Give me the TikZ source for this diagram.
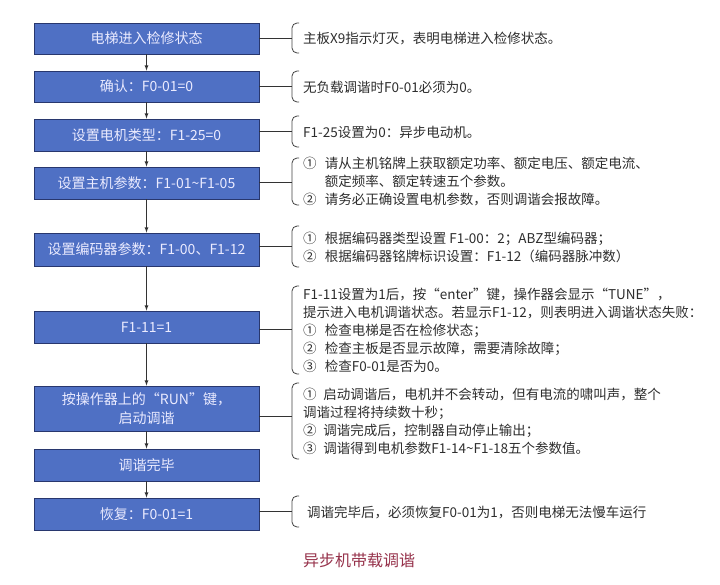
\documentclass[tikz,border=0pt]{standalone}
\usepackage{fontspec}
\setmainfont{Noto Sans CJK SC}
\usetikzlibrary{arrows}
\definecolor{boxblue}{RGB}{79,112,196}
\definecolor{boxline}{RGB}{40,55,110}
\definecolor{notegray}{RGB}{45,45,45}
\definecolor{titlered}{RGB}{150,50,75}

\begin{document}
\begin{tikzpicture}[x=1pt,y=-1pt,
    stepbox/.style={draw=boxline,line width=0.8pt,fill=boxblue,minimum width=225pt,inner sep=0pt,
      text=white!92!blue,align=center,font=\fontsize{14}{19}\selectfont},
    note/.style={anchor=west,align=left,inner sep=0pt,text=notegray,font=\fontsize{13.5}{18}\selectfont},
    brk/.style={draw=black!75,line width=0.8pt,rounded corners=5pt},
    link/.style={draw=black!80,line width=0.8pt}]
  \useasboundingbox (0,0) rectangle (720,584);
  % steps
  \node[stepbox,minimum height=31pt](b1)at(146.5,38.5){电梯进入检修状态};
  \node[stepbox,minimum height=31pt](b2)at(146.5,86.5){确认：F0-01=0};
  \node[stepbox,minimum height=32pt](b3)at(146.5,135){设置电机类型：F1-25=0};
  \node[stepbox,minimum height=32pt](b4)at(146.5,183){设置主机参数：F1-01\textasciitilde F1-05};
  \node[stepbox,minimum height=33pt](b5)at(146.5,249.5){设置编码器参数：F1-00、F1-12};
  \node[stepbox,minimum height=32pt](b6)at(146.5,327){F1-11=1};
  \node[stepbox,minimum height=45pt](b7)at(146.5,408.5){按操作器上的“RUN”键，\\启动调谐};
  \node[stepbox,minimum height=32pt](b8)at(146.5,465){调谐完毕};
  \node[stepbox,minimum height=32pt](b9)at(146.5,514){恢复：F0-01=1};
  \foreach \a/\b in {b1/b2,b2/b3,b3/b4,b4/b5,b5/b6,b6/b7,b7/b8,b8/b9}
    \draw[link,-latex](\a.south)--(\b.north);
  % notes
  \node[note](t1)at(303,39){主板X9指示灯灭，表明电梯进入检修状态。};
  \node[note](t2)at(303,87){无负载调谐时F0-01必须为0。};
  \node[note](t3)at(303,132){F1-25设置为0：异步电动机。};
  \node[note](t4)at(303,182){①\hspace{0.6em}请从主机铭牌上获取额定功率、额定电压、额定电流、\\\hspace{1.6em}额定频率、额定转速五个参数。\\②\hspace{0.6em}请务必正确设置电机参数，否则调谐会报故障。};
  \node[note](t5)at(303,247.5){①\hspace{0.6em}根据编码器类型设置 F1-00：2；ABZ型编码器；\\②\hspace{0.6em}根据编码器铭牌标识设置：F1-12（编码器脉冲数）};
  \node[note](t6)at(303,330){F1-11设置为1后，按“enter”键，操作器会显示“TUNE”，\\提示进入电机调谐状态。若显示F1-12，则表明进入调谐状态失败：\\①\hspace{0.6em}检查电梯是否在检修状态；\\②\hspace{0.6em}检查主板是否显示故障，需要清除故障；\\③\hspace{0.6em}检查F0-01是否为0。};
  \node[note](t7)at(303,421.5){①\hspace{0.5em}启动调谐后，电机并不会转动，但有电流的啸叫声，整个\\调谐过程将持续数十秒；\\②\hspace{0.5em}调谐完成后，控制器自动停止输出；\\③\hspace{0.5em}调谐得到电机参数F1-14\textasciitilde F1-18五个参数值。};
  \node[note](t8)at(307,512){调谐完毕后，必须恢复F0-01为1，否则电梯无法慢车运行};
  % brackets
  \foreach \t/\b/\m [count=\i] in {23/53/38,71/102/86.5,116/147/131,158/205/182,226/267/246.5,286/374/329,383/459/416,496/527/511.5}{
    \draw[brk](299,\t)--(292,\t)--(292,\b)--(299,\b);
    \coordinate(k\i)at(292,\m);
  }
  \foreach \i in {1,...,8}{
    \pgfmathtruncatemacro\j{\i<7 ? \i : \i+1}
    \draw[link](b\j.east|-k\i)--(k\i);
  }
  \node[text=titlered,font=\fontsize{16}{18}\selectfont](title)at(359,560){异步机带载调谐};
\end{tikzpicture}
\end{document}
